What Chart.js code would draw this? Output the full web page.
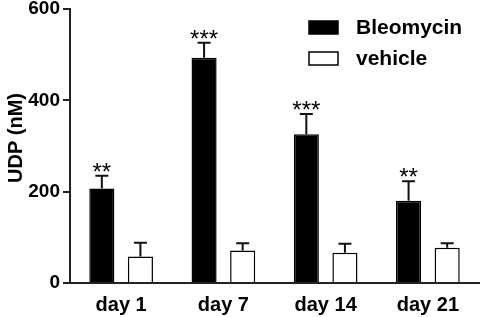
<!DOCTYPE html>
<html>
<head>
<meta charset="utf-8">
<script src="https://cdn.jsdelivr.net/npm/chart.js@4.4.1/dist/chart.umd.min.js"></script>
<style>
  html, body { margin: 0; padding: 0; background: #fff; }
  #wrap { position: relative; width: 482px; height: 317px; }
</style>
</head>
<body>
<div id="wrap"><canvas id="udpChart"></canvas></div>
<script>
// data
var days = ['day 1', 'day 7', 'day 14', 'day 21'];
var bleoMean = [207, 493, 326, 180];
var bleoErr = [28, 33, 44, 43];
var vehMean = [58, 71, 66, 77];
var vehErr = [30, 16, 20, 10];
var stars = ['**', '***', '***', '**'];
var yTicks = [0, 200, 400, 600];

var FONT = "'Liberation Sans', Arial, sans-serif";

// upward error bars + significance stars
var errorBars = {
    id: 'errorBars',
    afterDatasetsDraw: function (chart) {
        var ctx = chart.ctx;
        var y = chart.scales.y;
        ctx.save();
        ctx.strokeStyle = '#111';
        ctx.lineWidth = 2;
        chart.data.datasets.forEach(function (ds, i) {
            var meta = chart.getDatasetMeta(i);
            meta.data.forEach(function (bar, j) {
                var capY = y.getPixelForValue(ds.data[j] + ds.err[j]);
                ctx.beginPath();
                ctx.moveTo(bar.x, bar.y);
                ctx.lineTo(bar.x, capY);
                ctx.moveTo(bar.x - 6.5, capY);
                ctx.lineTo(bar.x + 6.5, capY);
                ctx.stroke();
                if (ds.stars) {
                    ctx.fillStyle = '#000';
                    ctx.font = '24px ' + FONT;
                    ctx.textAlign = 'center';
                    ctx.textBaseline = 'alphabetic';
                    ctx.fillText(ds.stars[j], bar.x, capY + 4);
                }
            });
        });
        ctx.restore();
    }
};

// legend in the top right + rotated y title
var extras = {
    id: 'extras',
    afterDraw: function (chart) {
        var ctx = chart.ctx;
        ctx.save();
        ctx.font = 'bold 21px ' + FONT;
        ctx.textAlign = 'left';
        ctx.textBaseline = 'middle';
        chart.data.datasets.forEach(function (ds, i) {
            var top = 21 + i * 31;
            ctx.fillStyle = ds.backgroundColor;
            ctx.fillRect(309, top, 29, 13);
            ctx.strokeStyle = '#000';
            ctx.lineWidth = 1.5;
            ctx.strokeRect(309, top, 29, 13);
            ctx.fillStyle = '#000';
            ctx.fillText(ds.label, 356, top + 7);
        });
        ctx.font = 'bold 20px ' + FONT;
        ctx.translate(16, 138);
        ctx.rotate(-Math.PI / 2);
        ctx.textAlign = 'center';
        ctx.fillText('UDP (nM)', 0, 0);
        ctx.restore();
    }
};

new Chart(document.getElementById('udpChart').getContext('2d'), {
    type: 'bar',
    data: {
        labels: days,
        datasets: [
            { label: 'Bleomycin', data: bleoMean, err: bleoErr, stars: stars,
              backgroundColor: '#000', borderColor: '#000', borderWidth: 1.5,
              categoryPercentage: 0.755, barPercentage: 0.65 },
            { label: 'vehicle', data: vehMean, err: vehErr,
              backgroundColor: '#fff', borderColor: '#000', borderWidth: 1.5,
              categoryPercentage: 0.755, barPercentage: 0.65 }
        ]
    },
    options: {
        responsive: true, maintainAspectRatio: false, animation: false,
        layout: { padding: { top: 9, right: 3, left: 0, bottom: 0 } },
        plugins: { legend: { display: false }, tooltip: { enabled: false } },
        scales: {
            x: {
                grid: { display: true, drawOnChartArea: false, drawTicks: false },
                border: { display: true, color: '#222', width: 2 },
                ticks: { color: '#000', padding: 10, font: { family: FONT, size: 20, weight: 'bold' } },
                afterFit: function (s) { s.height = 34; s.paddingLeft = 0; s.paddingRight = 0; }
            },
            y: {
                min: 0, max: 600,
                afterBuildTicks: function (s) { s.ticks = yTicks.map(function (v) { return { value: v }; }); },
                grid: { display: true, drawOnChartArea: false, drawTicks: true, tickLength: 7, color: '#222', lineWidth: 2 },
                border: { display: true, color: '#222', width: 2 },
                ticks: { color: '#000', padding: 3, font: { family: FONT, size: 19, weight: 'bold' } },
                afterFit: function (s) { s.width = 70; s.paddingTop = 0; s.paddingBottom = 0; }
            }
        }
    },
    plugins: [errorBars, extras]
});
</script>
</body>
</html>
